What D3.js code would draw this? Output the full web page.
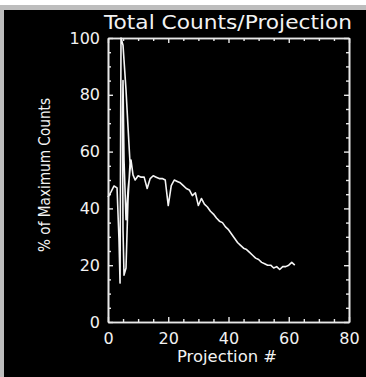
<!DOCTYPE html>
<html>
<head>
<meta charset="utf-8">
<script src="https://cdn.jsdelivr.net/npm/d3@7"></script>
<style>
  html, body { margin: 0; padding: 0; background: #ffffff; }
  svg { display: block; }
  text { font-family: "DejaVu Sans", sans-serif; fill: #f2f2f2; }
</style>
</head>
<body>
<svg id="chart" width="366" height="377"></svg>
<script>
// Projection number of each sample (early projections were re-sampled)
const projection = [
  0, 1, 2, 3, 3.65, 4.0, 4.32, 4.98, 5.98, 6.64, 7.31, 6.64, 5.98, 5.32, 4.98,
  4.82, 4.98, 5.32, 5.98, 6.64, 7.64, 8.3,
  9, 10, 11, 12, 13, 14, 15, 16, 17, 18, 19, 20, 21, 22, 23, 24, 25, 26, 27, 28,
  29, 30, 31, 32, 33, 34, 35, 36, 37, 38, 39, 40, 41, 42, 43, 44, 45, 46, 47, 48,
  49, 50, 51, 52, 53, 54, 55, 56, 57, 58, 59, 60, 61, 62
];
// Total counts, as % of the maximum
const percentCounts = [
  44, 45.8, 47.9, 47.2, 29, 13.7, 100, 97.5, 81.7, 68.7, 56, 43, 19, 16.5, 32.4,
  71, 85, 57, 36, 46.5, 57, 51.8,
  50, 51.5, 51, 51, 47, 50.5, 51.5, 51, 50.5, 50.5, 50, 41, 48, 50, 49.5, 49, 48, 47, 46.5, 44.5,
  45.5, 41, 43.5, 41.5, 40.5, 39, 38, 36.6, 35.5, 35, 33.5, 32.5, 31, 29.5, 28, 27, 26, 25.5, 24.5, 23.5,
  22.5, 22, 21, 20.5, 20, 20, 19, 19.5, 18.5, 19.5, 19.5, 20, 21, 20
];

const xMajorTicks = [0, 20, 40, 60, 80];
const yMajorTicks = [0, 20, 40, 60, 80, 100];
const titleText = "Total Counts/Projection";
const xTitle = "Projection #";
const yTitle = "% of Maximum Counts";

const svg = d3.select("#chart");

// Window frame: light border, black plotting window
svg.append("rect").attr("x", 0).attr("y", 5).attr("width", 366).attr("height", 372).attr("fill", "#bdbdbd");
svg.append("rect").attr("x", 4).attr("y", 10).attr("width", 362).attr("height", 367).attr("fill", "#000");

const plot = { left: 108, right: 349, top: 38, bottom: 322 };

const x = d3.scaleLinear().domain([0, 80]).range([plot.left, plot.right]);
const y = d3.scaleLinear().domain([0, 100]).range([plot.bottom, plot.top]);

const axisColor = "#e8e8e8";
const minorX = d3.range(0, 81, 5).filter(v => v % 20 !== 0);
const minorY = d3.range(0, 101, 5).filter(v => v % 20 !== 0);

function styleAxis(g) {
  g.select(".domain").attr("stroke", axisColor).attr("stroke-width", 1.6);
  g.selectAll(".tick line").attr("stroke", axisColor).attr("stroke-width", 1.4);
  g.selectAll(".tick text").attr("fill", "#f2f2f2").style("font-size", "16px")
    .style("font-family", "\"DejaVu Sans\", sans-serif");
}

// Bottom axis (labelled), ticks point inwards
const gB = svg.append("g").attr("transform", `translate(0,${plot.bottom})`)
  .call(d3.axisBottom(x).tickValues(xMajorTicks).tickSizeInner(-5).tickSizeOuter(0).tickPadding(11).tickFormat(d3.format("d")));
styleAxis(gB);
gB.selectAll(".tick text").attr("dy", "0.71em");
svg.append("g").attr("transform", `translate(0,${plot.bottom})`)
  .call(d3.axisBottom(x).tickValues(minorX).tickSizeInner(-3).tickSizeOuter(0).tickFormat(""))
  .call(styleAxis);

// Top axis, no labels
svg.append("g").attr("transform", `translate(0,${plot.top})`)
  .call(d3.axisTop(x).tickValues(xMajorTicks).tickSizeInner(-5).tickSizeOuter(0).tickFormat(""))
  .call(styleAxis);
svg.append("g").attr("transform", `translate(0,${plot.top})`)
  .call(d3.axisTop(x).tickValues(minorX).tickSizeInner(-3).tickSizeOuter(0).tickFormat(""))
  .call(styleAxis);

// Left axis (labelled)
const gL = svg.append("g").attr("transform", `translate(${plot.left},0)`)
  .call(d3.axisLeft(y).tickValues(yMajorTicks).tickSizeInner(-5).tickSizeOuter(0).tickPadding(8).tickFormat(d3.format("d")));
styleAxis(gL);
svg.append("g").attr("transform", `translate(${plot.left},0)`)
  .call(d3.axisLeft(y).tickValues(minorY).tickSizeInner(-3).tickSizeOuter(0).tickFormat(""))
  .call(styleAxis);

// Right axis, no labels
svg.append("g").attr("transform", `translate(${plot.right},0)`)
  .call(d3.axisRight(y).tickValues(yMajorTicks).tickSizeInner(-5).tickSizeOuter(0).tickFormat(""))
  .call(styleAxis);
svg.append("g").attr("transform", `translate(${plot.right},0)`)
  .call(d3.axisRight(y).tickValues(minorY).tickSizeInner(-3).tickSizeOuter(0).tickFormat(""))
  .call(styleAxis);

// Data line
const points = projection.map((p, i) => [p, percentCounts[i]]);
const line = d3.line().x(d => x(d[0])).y(d => y(d[1]));
svg.append("path").datum(points)
  .attr("d", line)
  .attr("fill", "none")
  .attr("stroke", "#f4f4f4")
  .attr("stroke-width", 1.6)
  .attr("stroke-linejoin", "round");

// Titles
svg.append("text").attr("x", 228).attr("y", 29).attr("text-anchor", "middle")
  .style("font-size", "20px").attr("textLength", 248).attr("lengthAdjust", "spacingAndGlyphs")
  .text(titleText);

svg.append("text").attr("x", 227).attr("y", 362).attr("text-anchor", "middle")
  .style("font-size", "16px").attr("textLength", 100).attr("lengthAdjust", "spacingAndGlyphs")
  .text(xTitle);

svg.append("text").attr("transform", "translate(50,175) rotate(-90)").attr("text-anchor", "middle")
  .style("font-size", "15px").attr("textLength", 154).attr("lengthAdjust", "spacingAndGlyphs")
  .text(yTitle);
</script>
</body>
</html>
